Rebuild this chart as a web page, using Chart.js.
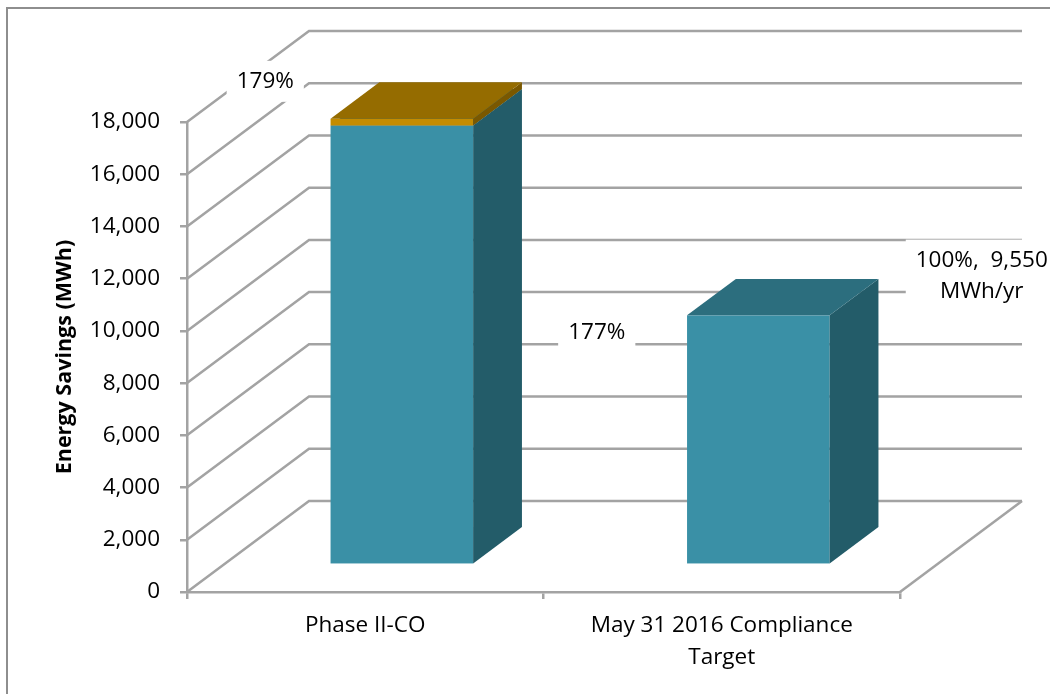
<!DOCTYPE html>
<html>
<head>
<meta charset="utf-8">
<script src="https://cdn.jsdelivr.net/npm/chart.js@4/dist/chart.umd.min.js"></script>
<style>
  html, body { margin: 0; padding: 0; background: #ffffff; }
  canvas { display: block; }
</style>
</head>
<body>
<canvas id="c" width="1050" height="694"></canvas>
<script>
// ---- data ----
const categories = ['Phase II-CO', ['May 31 2016 Compliance', 'Target']];
const baseSavings = [16820, 9550];      // teal segment (MWh)
const extraSavings = [260, 0];          // orange segment on top (MWh)
const yMin = 0;
const yMax = 18000;
const yStep = 2000;
const labelPhase = '179%';
const labelAchieved = '177%';
const labelTarget = ['100%,  9,550', 'MWh/yr'];

// ---- styles ----
const FONT = "'Open Sans', 'Liberation Sans', sans-serif";
const GRID = '#A3A3A3';
const GRID_W = 2.5;
const DEPTH_X = 122, DEPTH_Y = -91;    // full 3D depth of the plot box
const BAR_FRONT = 0.3, BAR_DEPTH = 0.4; // bar position within depth
const TEAL = { front: '#3A90A6', side: '#235C69', top: '#2C6E7E' };
const GOLD = { front: '#C48C00', side: '#7A5800', top: '#956C00' };

const plot3d = {
  id: 'plot3d',
  beforeDraw(chart) {
    const ctx = chart.ctx;
    ctx.save();
    ctx.fillStyle = '#ffffff';
    ctx.fillRect(0, 0, chart.width, chart.height);
    ctx.strokeStyle = '#8E8E8E';
    ctx.lineWidth = 2;
    ctx.strokeRect(7, 8, chart.width + 50, chart.height + 50);
    ctx.restore();
  },
  beforeDatasetsDraw(chart) {
    const ctx = chart.ctx;
    const y = chart.scales.y, a = chart.chartArea;
    ctx.save();
    ctx.strokeStyle = GRID;
    ctx.lineWidth = GRID_W;
    ctx.lineJoin = 'miter';
    for (let v = yMin; v <= yMax; v += yStep) {
      const py = y.getPixelForValue(v);
      ctx.beginPath();
      ctx.moveTo(a.left, py);
      ctx.lineTo(a.left + DEPTH_X, py + DEPTH_Y);
      ctx.lineTo(a.right + DEPTH_X, py + DEPTH_Y);
      ctx.stroke();
    }
    // floor right edge
    const p0 = y.getPixelForValue(yMin);
    ctx.beginPath();
    ctx.moveTo(a.right, p0);
    ctx.lineTo(a.right + DEPTH_X, p0 + DEPTH_Y);
    ctx.stroke();
    ctx.restore();
  },
  afterDatasetsDraw(chart) {
    const ctx = chart.ctx;
    const fx = DEPTH_X * BAR_FRONT, fy = DEPTH_Y * BAR_FRONT;
    const bx = DEPTH_X * BAR_DEPTH, by = DEPTH_Y * BAR_DEPTH;
    const palettes = [TEAL, GOLD];
    ctx.save();
    chart.data.labels.forEach((_, i) => {
      chart.data.datasets.forEach((ds, d) => {
        const el = chart.getDatasetMeta(d).data[i];
        if (!el) return;
        const p = el.getProps(['x', 'y', 'base', 'width'], true);
        if (Math.abs(p.base - p.y) < 0.5) return;
        const c = palettes[d];
        const L = p.x - p.width / 2 + fx, R = p.x + p.width / 2 + fx;
        const T = Math.min(p.y, p.base) + fy, B = Math.max(p.y, p.base) + fy;
        ctx.fillStyle = c.front;
        ctx.fillRect(L, T, R - L, B - T);
        ctx.fillStyle = c.side;
        ctx.beginPath();
        ctx.moveTo(R, T); ctx.lineTo(R + bx, T + by); ctx.lineTo(R + bx, B + by); ctx.lineTo(R, B);
        ctx.closePath(); ctx.fill();
        ctx.fillStyle = c.top;
        ctx.beginPath();
        ctx.moveTo(L, T); ctx.lineTo(L + bx, T + by); ctx.lineTo(R + bx, T + by); ctx.lineTo(R, T);
        ctx.closePath(); ctx.fill();
      });
    });

    // data labels with white boxes
    const drawLabel = (lines, cx, cy) => {
      ctx.font = `22.5px ${FONT}`;
      const lh = 31;
      const w = Math.max(...lines.map(t => ctx.measureText(t).width));
      const h = lines.length * lh;
      ctx.fillStyle = '#ffffff';
      ctx.fillRect(cx - w / 2 - 10, cy - h / 2 - 5, w + 20, h + 10);
      ctx.fillStyle = '#000000';
      ctx.textAlign = 'center';
      ctx.textBaseline = 'middle';
      lines.forEach((t, k) => ctx.fillText(t, cx, cy - h / 2 + lh / 2 + k * lh));
    };
    const e1 = chart.getDatasetMeta(1).data[0].getProps(['x', 'y'], true);
    const e2 = chart.getDatasetMeta(0).data[1].getProps(['x', 'y'], true);
    drawLabel([labelPhase], e1.x - 100, e1.y + fy + by - 1);
    drawLabel([labelAchieved], e2.x - 125, e2.y - 10);
    drawLabel(labelTarget, e2.x + 260, e2.y - 67);
    ctx.restore();
  }
};

new Chart(document.getElementById('c'), {
  type: 'bar',
  data: {
    labels: categories,
    datasets: [
      { data: baseSavings, backgroundColor: 'rgba(0,0,0,0)', barPercentage: 0.4, categoryPercentage: 1 },
      { data: extraSavings, backgroundColor: 'rgba(0,0,0,0)', barPercentage: 0.4, categoryPercentage: 1 }
    ]
  },
  plugins: [plot3d],
  options: {
    responsive: false,
    animation: false,
    devicePixelRatio: 1,
    layout: { padding: { left: 0, top: 122, right: 150, bottom: 0 } },
    plugins: { legend: { display: false }, tooltip: { enabled: false } },
    scales: {
      x: {
        stacked: true,
        offset: true,
        grid: { display: true, drawOnChartArea: false, drawTicks: true, tickLength: 7, offset: true, color: GRID, lineWidth: GRID_W },
        border: { display: true, color: GRID, width: GRID_W },
        ticks: { color: '#000000', padding: 11, maxRotation: 0, font: { family: FONT, size: 22.5, lineHeight: 1.42 } },
        afterFit: s => { s.height = 102; }
      },
      y: {
        stacked: true,
        min: yMin,
        max: yMax,
        grid: { display: true, drawOnChartArea: false, drawTicks: true, tickLength: 7, color: GRID, lineWidth: GRID_W },
        border: { display: true, color: GRID, width: GRID_W },
        ticks: {
          stepSize: yStep,
          padding: 20,
          color: '#000000',
          font: { family: FONT, size: 22.5 },
          callback: v => v.toLocaleString('en-US')
        },
        title: {
          display: true,
          text: 'Energy Savings (MWh)',
          color: '#000000',
          font: { family: FONT, size: 21.5, weight: 'bold' },
          padding: { top: 52, bottom: 0 }
        },
        afterFit: s => { s.width = 187; }
      }
    }
  }
});
</script>
</body>
</html>
